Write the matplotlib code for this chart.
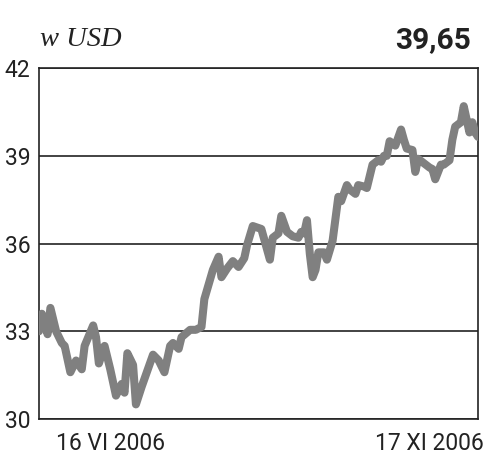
import matplotlib
matplotlib.use("Agg")
import matplotlib.pyplot as plt
import matplotlib.transforms as mtransforms

# days since start of the window, and USD values
days = [0, 1, 3, 4, 6, 8, 9, 11, 13, 15, 16, 19, 20, 21, 23, 25, 27, 29, 30, 31,
        33, 34, 36, 40, 42, 44, 46, 47, 49, 50, 53, 55, 57, 58, 61, 63, 64, 66, 68, 70,
        72, 73, 75, 78, 80, 81, 82, 84, 85, 87, 89, 91, 92, 93, 94, 95, 96, 97, 98, 100,
        101, 103, 105, 106, 108, 109, 111, 112, 114, 115, 117, 119, 120, 121, 122, 123, 125, 127, 128, 129,
        131, 132, 133, 135, 137, 138, 139, 141, 142, 144, 145, 146, 148, 149, 151, 152, 153, 154]
values = [33.0, 33.6, 32.9, 33.8, 33.0, 32.6, 32.5, 31.6, 32.0, 31.7,
          32.5, 33.2, 32.8, 31.9, 32.5, 31.7, 30.8, 31.2, 30.9, 32.25,
          31.85, 30.5, 31.1, 32.2, 32.0, 31.6, 32.5, 32.6, 32.4, 32.8,
          33.05, 33.05, 33.15, 34.1, 35.1, 35.55, 34.85, 35.15, 35.4, 35.2,
          35.5, 35.95, 36.6, 36.5, 35.8, 35.45, 36.2, 36.35, 36.95, 36.4,
          36.25, 36.2, 36.4, 36.35, 36.8, 35.65, 34.85, 35.1, 35.7, 35.7,
          35.45, 36.1, 37.6, 37.45, 38.0, 37.85, 37.7, 38.0, 37.95, 37.9,
          38.7, 38.85, 38.8, 39.0, 39.0, 39.5, 39.35, 39.9, 39.55, 39.25,
          39.2, 38.45, 38.9, 38.75, 38.6, 38.55, 38.2, 38.7, 38.7, 38.85,
          39.55, 40.0, 40.15, 40.7, 39.8, 40.15, 39.8, 39.65]
y_ticks = [30, 33, 36, 39, 42]
x_tick_pos = [25, 154]
x_tick_labels = ["16 VI 2006", "17 XI 2006"]
unit_label = "w USD"
last_value = "39,65"

fig = plt.figure(figsize=(5, 4.7), dpi=100)
ax = fig.add_axes([0.078, 0.1085, 0.878, 0.7465])

ax.plot(days, values, color="#808080", lw=5.8, solid_joinstyle="round",
        solid_capstyle="round", zorder=3)

ax.set_xlim(0, 154)
ax.set_ylim(30, 42)
ax.set_yticks(y_ticks)
ax.set_yticklabels([str(v) for v in y_ticks])
ax.set_xticks(x_tick_pos)
ax.set_xticklabels(x_tick_labels)
ax.tick_params(axis="both", length=0, labelsize=16.5, colors="#222222")
ax.tick_params(axis="y", pad=6)
ax.tick_params(axis="x", pad=9)
for lab in ax.get_xticklabels() + ax.get_yticklabels():
    lab.set_fontfamily("Roboto")
lbl = ax.get_xticklabels()[1]
lbl.set_horizontalalignment("right")
lbl.set_transform(lbl.get_transform() + mtransforms.ScaledTranslation(6/100, 0, fig.dpi_scale_trans))

ax.grid(axis="y", color="#222222", lw=1.2, zorder=1)
ax.grid(axis="x", visible=False)
for s in ax.spines.values():
    s.set_color("#222222")
    s.set_linewidth(1.2)

fig.text(40/500, 1 - 39/470, unit_label, fontsize=20.5, fontstyle="italic",
         family="Liberation Serif", color="#222222", va="center", ha="left")
fig.text(471/500, 1 - 40/470, last_value, fontsize=21.5, fontweight="bold",
         family="Roboto", color="#222222", va="center", ha="right")

fig.savefig("out.png", dpi=100, facecolor="white")
